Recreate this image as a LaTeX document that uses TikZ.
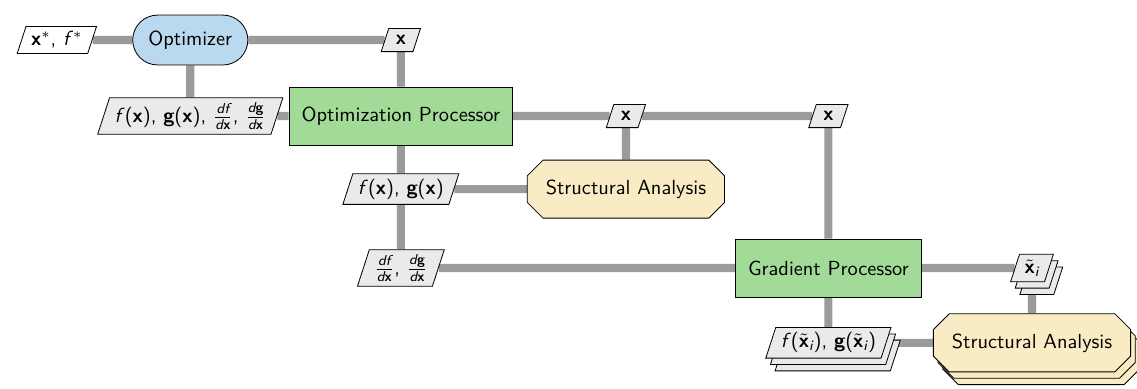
\documentclass[tikz,border=0pt]{standalone}
\usepackage{amsmath}
\usetikzlibrary{shapes.geometric}
\usetikzlibrary{shapes.misc}
\usetikzlibrary{shadows}
\usetikzlibrary{backgrounds}

\definecolor{optblue}{RGB}{186,216,238}
\definecolor{funcgreen}{RGB}{162,218,152}
\definecolor{anlbeige}{RGB}{249,236,196}
\definecolor{datagray}{RGB}{234,234,234}
\definecolor{conngray}{RGB}{155,155,155}

\newcommand{\vx}{\textbf{x}}
\newcommand{\vg}{\textbf{g}}
\newcommand{\itf}{\textit{f}}
\newcommand{\itd}{\textit{d}}
\newcommand{\xtil}{$\tilde{\vx}_{\textit{i}}$}

\begin{document}
\begin{tikzpicture}[every node/.style={font=\sffamily}]
                    \tikzstyle{optim} = [rounded rectangle, draw, fill=optblue, minimum height=0.86cm, inner xsep=0.24cm]
                    \tikzstyle{func} = [rectangle, draw, fill=funcgreen, minimum height=1cm, inner xsep=0.22cm]
                    \tikzstyle{analysis} = [chamfered rectangle, chamfered rectangle xsep=0.17cm, draw, fill=anlbeige, minimum width=3.4cm, minimum height=1cm]
                    \tikzstyle{data} = [trapezium, trapezium left angle=72, trapezium right angle=108, draw, fill=datagray, minimum height=0.4cm, inner sep=2.5pt]
                    \tikzstyle{stack} = [double copy shadow={shadow xshift=0.08cm, shadow yshift=-0.11cm}]
                    \tikzstyle{conn} = [line width=0.14cm, conngray]
                    \useasboundingbox (0, 0) rectangle (19.6, 6.69);
                    \node[data, fill=white] (out) at (0.98, 6.0) {\vx$^*$, \itf$^*$};
                    \node[optim] (opt) at (3.28, 6.0) {Optimizer};
                    \node[data] (xopt) at (6.91, 6.0) {\vx};
                    \node[data] (optin) at (3.28, 4.69) {\itf(\vx), \vg(\vx), $\frac{\itd\itf}{\itd\vx}$, $\frac{\itd\vg}{\itd\vx}$};
                    \node[func] (optproc) at (6.91, 4.69) {Optimization Processor};
                    \node[data] (xsa) at (10.79, 4.69) {\vx};
                    \node[data] (xgrad) at (14.28, 4.69) {\vx};
                    \node[data] (fg) at (6.91, 3.43) {\itf(\vx), \vg(\vx)};
                    \node[analysis] (sa) at (10.79, 3.43) {Structural Analysis};
                    \node[data] (dfdg) at (6.91, 2.07) {$\frac{\itd\itf}{\itd\vx}$, $\frac{\itd\vg}{\itd\vx}$};
                    \node[func] (gradproc) at (14.28, 2.07) {Gradient Processor};
                    \node[data, stack] (xtil) at (17.79, 2.07) {\xtil};
                    \node[data, stack] (fgtil) at (14.28, 0.78) {\itf(\xtil), \vg(\xtil)};
                    \node[analysis, stack] (sastack) at (17.79, 0.78) {Structural Analysis};
                    \begin{pgfonlayer}{background}
                        \draw[conn] (out) -- (opt) -- (xopt);
                        \draw[conn] (opt) -- (optin) -- (optproc);
                        \draw[conn] (xopt) -- (optproc) -- (xsa) -- (xgrad);
                        \draw[conn] (optproc) -- (fg) -- (dfdg);
                        \draw[conn] (xsa) -- (sa) -- (fg);
                        \draw[conn] (xgrad) -- (gradproc) -- (dfdg);
                        \draw[conn] (gradproc) -- (xtil) -- (sastack);
                        \draw[conn] (gradproc) -- (fgtil) -- (sastack);
                    \end{pgfonlayer}
                \end{tikzpicture}
\end{document}
